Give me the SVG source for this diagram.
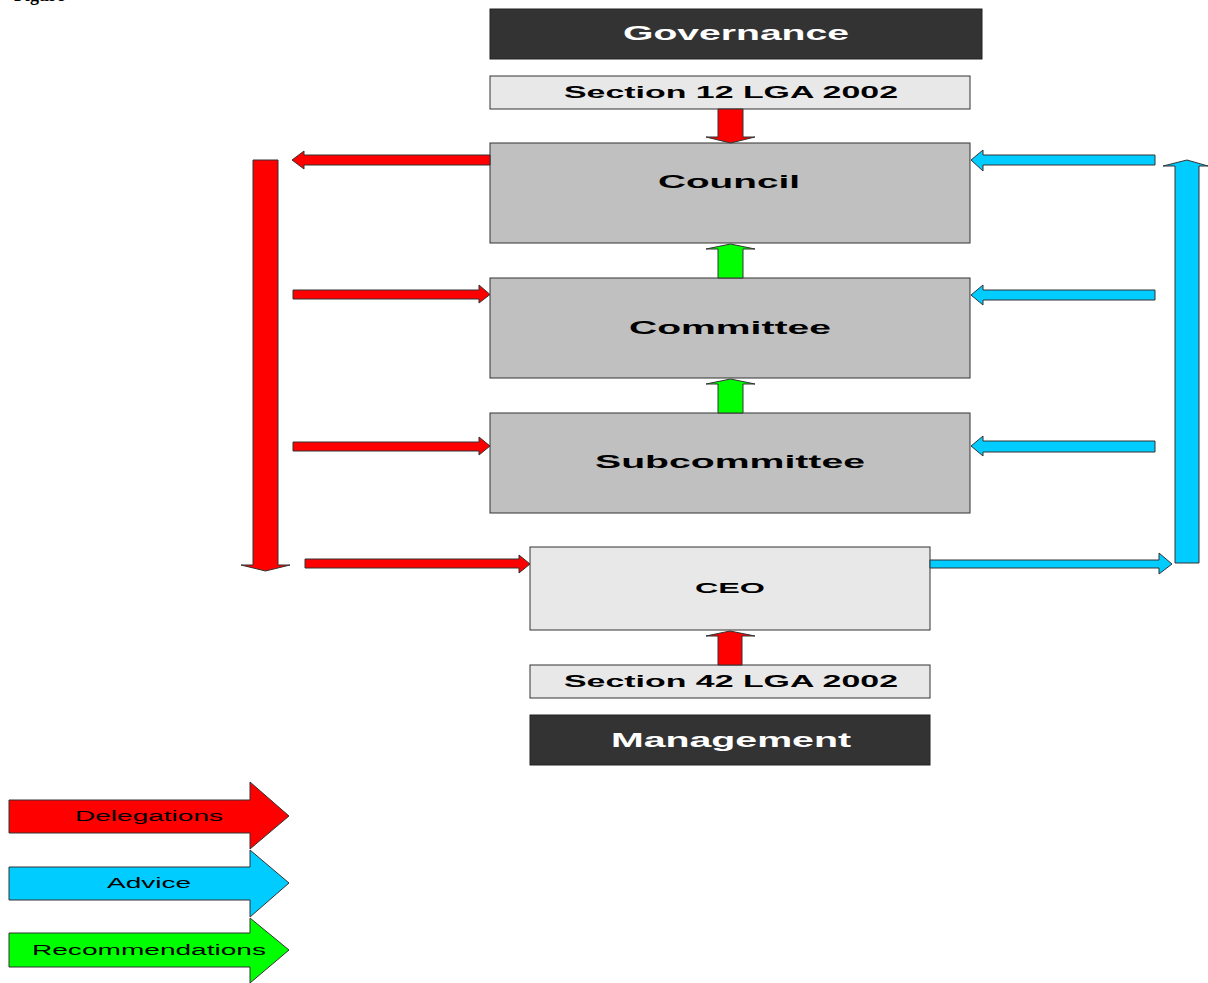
<svg xmlns="http://www.w3.org/2000/svg" width="1208" height="983" viewBox="0 0 1208 983">
<style>
.dark{fill:#333333;stroke:#222222;stroke-width:1}
.light{fill:#e8e8e8;stroke:#333333;stroke-width:1}
.grey{fill:#c0c0c0;stroke:#333333;stroke-width:1}
.red{fill:#ff0000;stroke:#333333;stroke-width:1}
.blue{fill:#00ccff;stroke:#333333;stroke-width:1}
.green{fill:#00ff00;stroke:#333333;stroke-width:1}
.lbl{font-family:"Liberation Sans",Arial,sans-serif;font-weight:bold;fill:#000000}
.wlbl{font-family:"Liberation Sans",Arial,sans-serif;font-weight:bold;fill:#ffffff}
.leg{font-family:"Liberation Sans",Arial,sans-serif;fill:#000000}
</style>
<rect width="1208" height="983" fill="#ffffff"/>
<text x="14" y="1" font-family="Liberation Serif,serif" font-weight="bold" font-size="18">Figure</text>

<g id="governance">
<rect class="dark" x="490" y="9" width="492" height="50"/>
<text class="wlbl" x="623" y="40" font-size="20" textLength="226" lengthAdjust="spacingAndGlyphs">Governance</text>
</g>
<g id="section12">
<rect class="light" x="490" y="76" width="480" height="33"/>
<text class="lbl" x="564" y="98" font-size="17" textLength="334" lengthAdjust="spacingAndGlyphs">Section 12 LGA 2002</text>
</g>
<g id="council">
<rect class="grey" x="490" y="143" width="480" height="100"/>
<text class="lbl" x="658" y="188" font-size="18" textLength="142" lengthAdjust="spacingAndGlyphs">Council</text>
</g>
<g id="committee">
<rect class="grey" x="490" y="278" width="480" height="100"/>
<text class="lbl" x="629" y="334" font-size="18" textLength="202" lengthAdjust="spacingAndGlyphs">Committee</text>
</g>
<g id="subcommittee">
<rect class="grey" x="490" y="413" width="480" height="100"/>
<text class="lbl" x="595" y="468" font-size="18" textLength="270" lengthAdjust="spacingAndGlyphs">Subcommittee</text>
</g>
<g id="ceo">
<rect class="light" x="530" y="547" width="400" height="83"/>
<text class="lbl" x="695" y="593" font-size="15" textLength="70" lengthAdjust="spacingAndGlyphs">CEO</text>
</g>
<g id="section42">
<rect class="light" x="530" y="665" width="400" height="33"/>
<text class="lbl" x="564" y="687" font-size="17" textLength="334" lengthAdjust="spacingAndGlyphs">Section 42 LGA 2002</text>
</g>
<g id="management">
<rect class="dark" x="530" y="715" width="400" height="50"/>
<text class="wlbl" x="611" y="747" font-size="20" textLength="240" lengthAdjust="spacingAndGlyphs">Management</text>
</g>

<g id="connectors">
<polygon class="red" points="718,109 743,109 743,137 755,137 730.5,143 706,137 718,137"/>
<polygon class="red" points="718,665 742,665 742,636 755,636 730,631 706,636 718,636"/>
<polygon class="green" points="718,278 743,278 743,249 755,249 730.5,244 706,249 718,249"/>
<polygon class="green" points="718,413 743,413 743,384 755,384 730.5,379 706,384 718,384"/>
<polygon class="red" points="490,155 490,165 304,165 304,169 292,160 304,151 304,155"/>
<polygon class="red" points="253,160 278,160 278,565 290,565 265.5,571 241,565 253,565"/>
<polygon class="red" points="293,290 479,290 479,285 490,294.5 479,303 479,299 293,299"/>
<polygon class="red" points="293,442 479,442 479,437 490,446 479,455 479,451 293,451"/>
<polygon class="red" points="305,559 519,559 519,555 530,564 519,573 519,568 305,568"/>
<polygon class="blue" points="1155,155 1155,165 983,165 983,171 971,160 983,150 983,155"/>
<polygon class="blue" points="1155,290 1155,300 983,300 983,305 971,295 983,285 983,290"/>
<polygon class="blue" points="1155,441 1155,452 983,452 983,456 971,446 983,436 983,441"/>
<polygon class="blue" points="1175,563 1199,563 1199,166 1208,166 1187,160 1163,166 1175,166"/>
<polygon class="blue" points="930,560 1159,560 1159,553 1172,564 1159,574 1159,568 930,568"/>
</g>

<g id="legend-delegations">
<polygon class="red" points="9,800 250,800 250,782 289,816 250,849 250,833 9,833"/>
<text class="leg" x="75" y="821" font-size="14" textLength="148" lengthAdjust="spacingAndGlyphs">Delegations</text>
</g>
<g id="legend-advice">
<polygon class="blue" points="9,867 250,867 250,850 289,883 250,917 250,900 9,900"/>
<text class="leg" x="107" y="888" font-size="14" textLength="84" lengthAdjust="spacingAndGlyphs">Advice</text>
</g>
<g id="legend-recommendations">
<polygon class="green" points="9,933 250,933 250,918 289,950 250,983 250,967 9,967"/>
<text class="leg" x="32" y="955" font-size="14" textLength="234" lengthAdjust="spacingAndGlyphs">Recommendations</text>
</g>
</svg>
